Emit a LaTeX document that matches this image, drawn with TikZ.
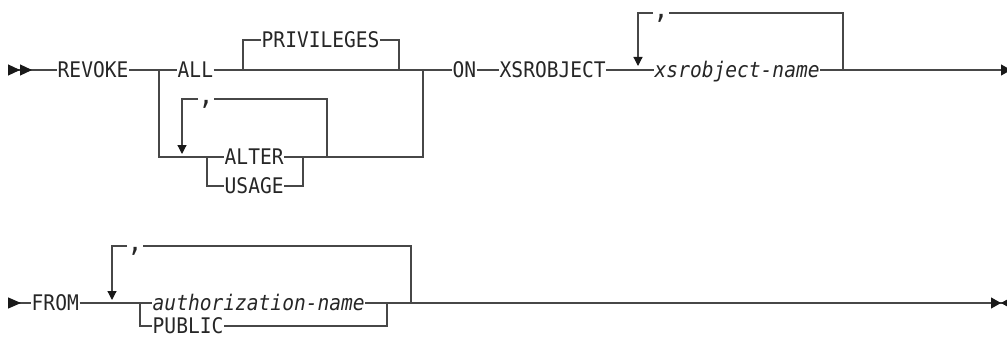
\documentclass[tikz,border=0pt]{standalone}
\usepackage{fontspec}
\newfontfamily\railfont{DejaVu Sans Mono}[FakeStretch=0.91]
\usetikzlibrary{arrows.meta}

\begin{document}
\begin{tikzpicture}[
  x=1pt,y=-1pt,
  rail/.style={line width=1.2pt,draw=black!72},
  word/.style={font=\railfont\fontsize{21.5}{24}\selectfont,text=black!85,
    inner xsep=0.5pt,inner ysep=0pt,text height=15.7pt,text depth=0pt,anchor=west},
  var/.style={word,font=\railfont\fontsize{21.5}{24}\selectfont\itshape},
  sep/.style={font=\railfont\fontsize{28}{30}\selectfont,text=black!85,inner xsep=0pt,inner ysep=1pt,anchor=north},
  head/.tip={Triangle[length=10pt,width=11pt,color=black!90]},
  back/.tip={Triangle[reversed,length=12pt,width=11pt,color=black!90]},
  down/.tip={Triangle[length=9pt,width=9pt,color=black!90]},
  repeat/.style={rail,-down}
]
\useasboundingbox (0,0) rectangle (1007,337);
% first line
\coordinate (start1) at (8,70);
\node[word] (revoke) at (57,70) {REVOKE};
\node[word] (all) at (177,70) {ALL};
\node[word] (priv) at (261,40) {PRIVILEGES};
\node[word] (alter) at (224,157) {ALTER};
\node[word] (usage) at (224,186) {USAGE};
\node[sep] (altsep) at (206,99) {,};
\node[word] (on) at (452,70) {ON};
\node[word] (xsr) at (499,70) {XSROBJECT};
\node[var] (objname) at (654,70) {xsrobject-name};
\node[sep] (objsep) at (661,13) {,};
\coordinate (j1) at (159,70); \coordinate (j2) at (423,70);
\coordinate (pl) at (243,70); \coordinate (pr) at (399,70);
\coordinate (ul) at (207,157); \coordinate (ur) at (303,157);
\coordinate (lr) at (327,157); \coordinate (ltip) at (182,154);
\coordinate (or) at (843,70); \coordinate (otip) at (638,66);
\coordinate (end1) at (1011,70);
\draw[rail,{back[]back[]}-] (start1) -- (revoke.west);
\draw[rail] (revoke.east) -- (all.west);
\draw[rail] (all.east) -- (on.west);
\draw[rail] (on.east) -- (xsr.west);
\draw[rail] (xsr.east) -- (objname.west);
\draw[rail,-head] (objname.east) -- (end1);
\draw[rail] (pl) |- (priv.west); \draw[rail] (priv.east) -| (pr);
\draw[rail] (j1) |- (alter.west); \draw[rail] (alter.east) -| (j2);
\draw[rail] (ul) |- (usage.west); \draw[rail] (usage.east) -| (ur);
\draw[rail] (lr) |- (altsep.north east); \draw[repeat] (altsep.north west) -| (ltip);
\draw[rail] (or) |- (objsep.north east); \draw[repeat] (objsep.north west) -| (otip);
% second line
\coordinate (start2) at (8,303);
\node[word] (from) at (31,303) {FROM};
\node[var] (auth) at (152,303) {authorization-name};
\node[word] (public) at (152,326) {PUBLIC};
\node[sep] (authsep) at (135,246) {,};
\coordinate (cl) at (140,303); \coordinate (cr) at (387,303);
\coordinate (rr) at (411,303); \coordinate (rtip) at (112,300);
\coordinate (end2) at (1011,303);
\draw[rail,{Triangle[reversed,length=13pt,width=11pt,color=black!90]}-] (start2) -- (from.west);
\draw[rail] (from.east) -- (auth.west);
\draw[rail,-{head[]Triangle[reversed,length=10pt,width=11pt,color=black!90]}] (auth.east) -- (end2);
\draw[rail] (cl) |- (public.west); \draw[rail] (public.east) -| (cr);
\draw[rail] (rr) |- (authsep.north east); \draw[repeat] (authsep.north west) -| (rtip);
\end{tikzpicture}
\end{document}
